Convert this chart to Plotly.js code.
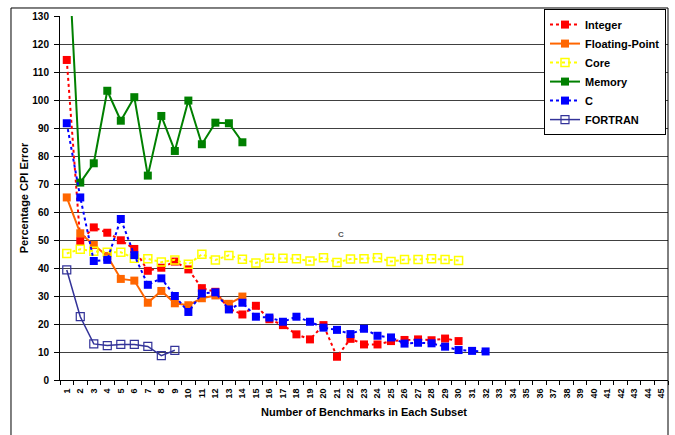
<!DOCTYPE html>
<html>
<head>
<meta charset="utf-8">
<script src="https://cdn.plot.ly/plotly-3.0.1.min.js"></script>
<style>
  html, body { margin: 0; padding: 0; background: #fff; }
  #chart { width: 675px; height: 435px; }
</style>
</head>
<body>
<div id="chart"></div>
<script>
// Tick labels / categories (number of benchmarks in each subset)
const categories = Array.from({length: 45}, (_, i) => i + 1);

// Series values (Percentage CPI Error)
const integerErr = [114.3, 49.6, 54.5, 52.6, 49.9, 46.8, 39.0, 40.1, 42.3, 39.5, 32.8, 31.5, 25.5, 23.4, 26.5, 21.7, 19.6, 16.3, 14.5, 19.6, 8.3, 14.7, 12.7, 12.7, 13.9, 14.3, 14.5, 14.2, 14.8, 13.9];
const floatingPointErr = [65.2, 52.4, 48.2, 44.3, 36.1, 35.5, 27.6, 31.8, 27.4, 26.7, 29.2, 30.2, 27.2, 29.8];
const coreErr = [45.2, 46.7, 46.0, 45.6, 45.6, 43.5, 43.3, 42.1, 42.9, 41.3, 44.9, 42.9, 44.5, 43.1, 41.8, 43.5, 43.5, 43.3, 42.5, 43.7, 42.0, 43.2, 43.3, 43.7, 42.3, 43.0, 43.0, 43.3, 43.0, 42.7];
const memoryErr = [165, 70.5, 77.4, 103.3, 92.6, 101.0, 73.0, 94.3, 81.8, 99.8, 84.2, 91.9, 91.7, 84.9];
const cErr = [91.7, 65.2, 42.5, 42.9, 57.5, 44.6, 34.0, 36.3, 30.0, 24.3, 30.9, 31.3, 25.2, 27.6, 22.6, 22.3, 20.8, 22.6, 20.8, 18.7, 17.9, 16.4, 18.3, 15.8, 15.2, 13.0, 13.3, 13.1, 11.9, 10.7, 10.4, 10.2];
const fortranErr = [39.3, 22.6, 12.9, 12.3, 12.7, 12.7, 12.0, 8.7, 10.6];

const seriesNames = ["Integer", "Floating-Point", "Core", "Memory", "C", "FORTRAN"];

function xs(arr) { return categories.slice(0, arr.length); }

const traces = [
  {
    name: seriesNames[0], x: xs(integerErr), y: integerErr, type: "scatter", mode: "lines+markers",
    line: {color: "#FF0000", width: 2, dash: "3px,3px"},
    marker: {symbol: "square", size: 8, color: "#FF0000"}
  },
  {
    name: seriesNames[1], x: xs(floatingPointErr), y: floatingPointErr, type: "scatter", mode: "lines+markers",
    line: {color: "#FF6600", width: 2},
    marker: {symbol: "square", size: 8, color: "#FF6600"}
  },
  {
    name: seriesNames[2], x: xs(coreErr), y: coreErr, type: "scatter", mode: "lines+markers",
    line: {color: "#FFFF00", width: 2, dash: "3px,3px"},
    marker: {symbol: "square-open", size: 8, color: "#FFFF00", line: {width: 1.5}}
  },
  {
    name: seriesNames[3], x: xs(memoryErr), y: memoryErr, type: "scatter", mode: "lines+markers",
    line: {color: "#008000", width: 2},
    marker: {symbol: "square", size: 8, color: "#008000"}
  },
  {
    name: seriesNames[4], x: xs(cErr), y: cErr, type: "scatter", mode: "lines+markers",
    line: {color: "#0000FF", width: 2, dash: "3px,3px"},
    marker: {symbol: "square", size: 8, color: "#0000FF"}
  },
  {
    name: seriesNames[5], x: xs(fortranErr), y: fortranErr, type: "scatter", mode: "lines+markers",
    line: {color: "#333399", width: 1.5},
    marker: {symbol: "square-open", size: 8, color: "#333399", line: {width: 1.2}}
  }
];

const font = "Liberation Sans, Arial, sans-serif";

const layout = {
  width: 675, height: 435,
  margin: {l: 60, r: 7, t: 16, b: 55, pad: 0},
  paper_bgcolor: "#FFFFFF",
  plot_bgcolor: "#FFFFFF",
  font: {family: font, color: "#000000", size: 10, weight: "bold"},
  showlegend: true,
  legend: {
    x: 0.9967, xanchor: "right", y: 1.019, yanchor: "top",
    bgcolor: "#FFFFFF", bordercolor: "#000000", borderwidth: 1,
    font: {family: font, size: 11, weight: "bold", color: "#000000"},
    itemwidth: 30, tracegroupgap: 0
  },
  xaxis: {
    type: "linear",
    range: [0.5, 45.5],
    tickvals: categories,
    ticktext: categories.map(String),
    tickangle: -90,
    ticks: "",
    ticklabelstandoff: 4,
    tickfont: {family: font, size: 9, weight: "bold"},
    showgrid: false,
    zeroline: false,
    showline: true, linecolor: "#000000", linewidth: 1,
    minor: {tick0: 0.5, dtick: 1, ticks: "outside", ticklen: 4, tickcolor: "#000000", showgrid: false},
    title: {text: "Number of Benchmarks in Each Subset", font: {family: font, size: 11, weight: "bold"}, standoff: 10}
  },
  yaxis: {
    range: [0, 130],
    dtick: 10,
    ticks: "outside", ticklen: 5, tickcolor: "#000000",
    ticklabelstandoff: 3,
    tickfont: {family: font, size: 10, weight: "bold"},
    showgrid: true, gridcolor: "#404040", gridwidth: 1,
    zeroline: false,
    showline: true, linecolor: "#000000", linewidth: 1,
    title: {text: "Percentage CPI Error", font: {family: font, size: 11, weight: "bold"}, standoff: 1}
  },
  shapes: [
    {type: "rect", xref: "paper", yref: "paper", x0: -0.0806, x1: 1.0, y0: -0.2, y1: 1.022,
     line: {color: "#000000", width: 1}, fillcolor: "rgba(0,0,0,0)", layer: "above"}
  ],
  annotations: [
    {x: 21.3, y: 51.8, xref: "x", yref: "y", text: "C", showarrow: false,
     font: {family: font, size: 8, color: "#555555"}}
  ]
};

Plotly.newPlot("chart", traces, layout, {displayModeBar: false, staticPlot: true});
</script>
</body>
</html>
